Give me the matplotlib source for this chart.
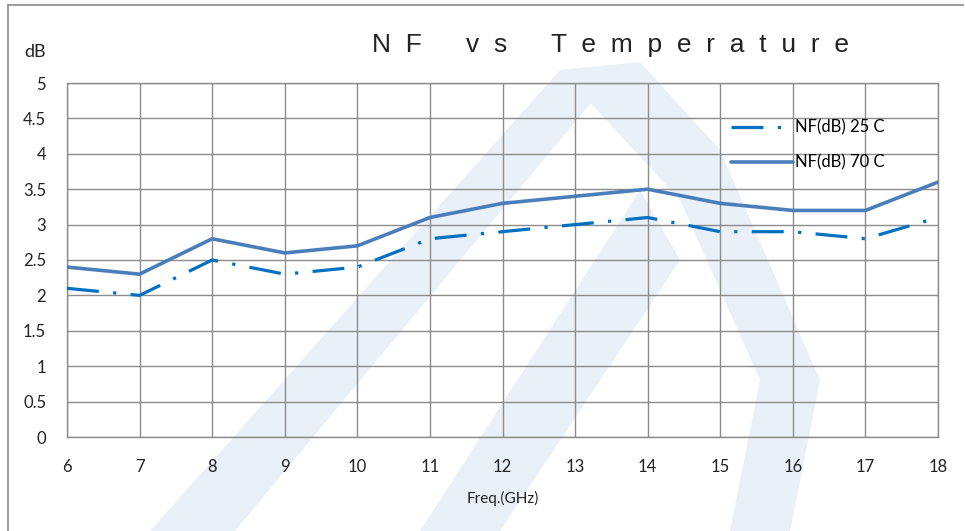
import matplotlib.pyplot as plt
from matplotlib.patches import Polygon
from matplotlib.lines import Line2D

freq = [6, 7, 8, 9, 10, 11, 12, 13, 14, 15, 16, 17, 18]
nf_25c = [2.1, 2.0, 2.5, 2.3, 2.4, 2.8, 2.9, 3.0, 3.1, 2.9, 2.9, 2.8, 3.1]
nf_70c = [2.4, 2.3, 2.8, 2.6, 2.7, 3.1, 3.3, 3.4, 3.5, 3.3, 3.2, 3.2, 3.6]
y_ticks = [0, 0.5, 1, 1.5, 2, 2.5, 3, 3.5, 4, 4.5, 5]

plt.rcParams['font.family'] = ['Lato', 'DejaVu Sans']

W, H = 965, 531
fig = plt.figure(figsize=(W / 100, H / 100), dpi=100)


def px(pts):
    # pixel coords (top-left origin) -> figure fraction
    return [(x / W, 1 - y / H) for x, y in pts]


# faint watermark in the background
wm = "#e9f0f8"
for shape in [
    [(150, 531), (235, 531), (610, 80), (560, 70)],
    [(560, 70), (640, 62), (720, 150), (820, 380), (790, 531), (730, 531), (760, 380), (680, 200)],
    [(420, 531), (500, 531), (680, 260), (640, 190)],
]:
    fig.patches.append(Polygon(px(shape), closed=True, transform=fig.transFigure,
                               facecolor=wm, edgecolor="none", zorder=-5))

# outer frame (top and left)
fig.add_artist(Line2D([8 / W, 963 / W], [1 - 5 / H, 1 - 5 / H], color="#8c8c8c", lw=1.2))
fig.add_artist(Line2D([8 / W, 8 / W], [1 - 5 / H, 0], color="#8c8c8c", lw=1.2))

ax = fig.add_axes([67 / W, 1 - 437 / H, (938 - 67) / W, (437 - 83) / H])
ax.set_facecolor("none")
ax.set_zorder(2)

ax.plot(freq, nf_25c, color="#0070C0", lw=2.3, dashes=(10, 4.5, 1, 4.5),
        label="NF(dB) 25 C", zorder=3)
ax.plot(freq, nf_70c, color="#4a7ebb", lw=2.6, solid_capstyle="round",
        label="NF(dB) 70 C", zorder=3)

ax.set_xlim(6, 18)
ax.set_ylim(0, 5)
ax.set_xticks(freq)
ax.set_yticks(y_ticks)
ax.set_yticklabels([f"{v:g}" for v in y_ticks])
ax.grid(True, color="#8c8c8c", lw=1.0)
ax.set_axisbelow(True)
for s in ax.spines.values():
    s.set_color("#8c8c8c")
    s.set_linewidth(1.0)
ax.tick_params(length=0, labelsize=12, colors="#222222")
ax.tick_params(axis="x", pad=16)
ax.tick_params(axis="y", pad=15)

ax.set_xlabel("Freq.(GHz)", fontsize=11, color="#222222", labelpad=11)
fig.text(35 / W, 1 - 52 / H, "dB", fontsize=13, color="#222222", ha="center", va="center")
title = "      ".join("  ".join(w) for w in ["NF", "vs", "Temperature"])
fig.text(610 / W, 1 - 45 / H, title, fontsize=19,
         color="#222222", ha="center", va="center", family="Liberation Sans")

ax.legend(loc="upper left", bbox_to_anchor=(0.755, 0.915), frameon=False, fontsize=12,
          handlelength=3.7, handletextpad=0.1, labelspacing=1.1, borderaxespad=0)

fig.savefig("out.png", dpi=100)
